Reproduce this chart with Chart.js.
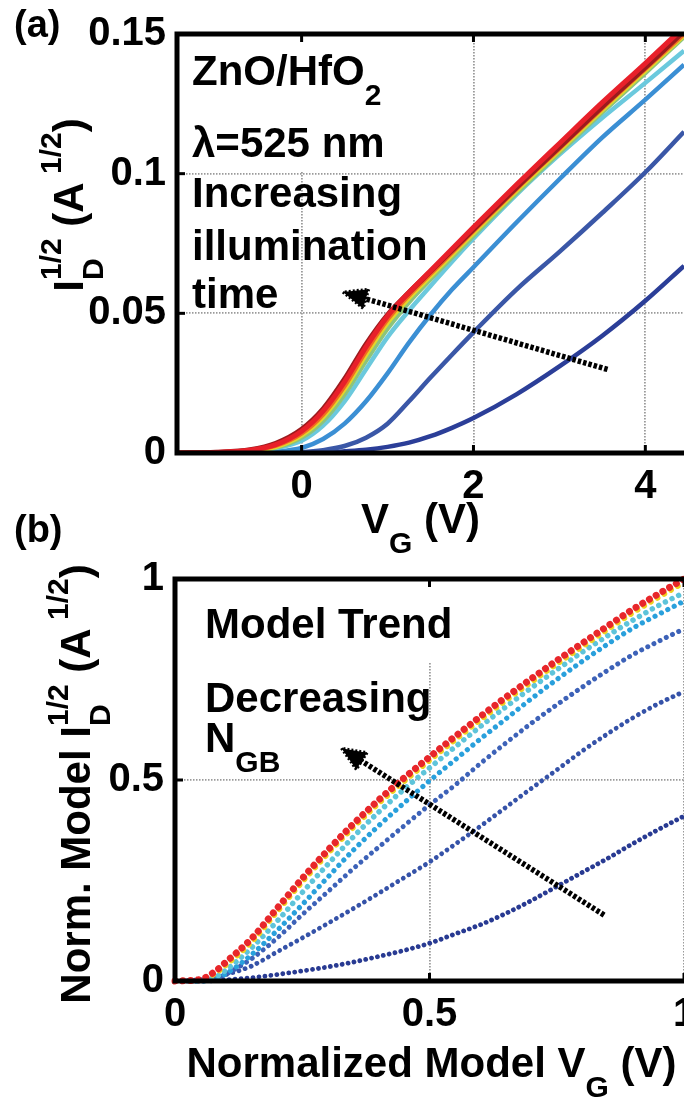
<!DOCTYPE html>
<html>
<head>
<meta charset="utf-8">
<script src="https://cdn.jsdelivr.net/npm/chart.js@4.4.1/dist/chart.umd.min.js"></script>
<style>
  html, body { margin: 0; padding: 0; background: #fff; }
  #wrap { position: relative; width: 684px; height: 1100px; overflow: hidden; }
  #wrapA { position: absolute; left: 0; top: 0; }
  #wrapB { position: absolute; left: 0; top: 500px; }
  canvas { display: block; }
</style>
</head>
<body>
<div id="wrap">
  <div id="wrapA"><canvas id="chartA" width="684" height="560"></canvas></div>
  <div id="wrapB"><canvas id="chartB" width="684" height="600"></canvas></div>
</div>
<script>
// ——— PANEL (a): measured I_D^1/2 vs V_G, one curve per illumination time ———
const vgA = [-1.45, -1.0, -0.6, -0.3, 0, 0.25, 0.5, 0.75, 1.0, 1.25, 1.5, 1.75, 2.0, 2.5, 3.0, 3.5, 4.0, 4.45];
const idDarkRed = [0, 0.0003, 0.0012, 0.0035, 0.0085, 0.0158, 0.0265, 0.0390, 0.0495, 0.0575, 0.0650, 0.0725, 0.0800, 0.0950, 0.1095, 0.1240, 0.1380, 0.1510];
const idRed     = [0, 0.0002, 0.0010, 0.0030, 0.0078, 0.0150, 0.0255, 0.0380, 0.0490, 0.0575, 0.0652, 0.0730, 0.0808, 0.0960, 0.1108, 0.1255, 0.1395, 0.1525];
const idOrange  = [0, 0.0002, 0.0009, 0.0026, 0.0070, 0.0138, 0.0240, 0.0365, 0.0478, 0.0565, 0.0642, 0.0718, 0.0795, 0.0945, 0.1090, 0.1235, 0.1375, 0.1500];
const idYellow  = [0, 0.0001, 0.0008, 0.0022, 0.0063, 0.0128, 0.0228, 0.0352, 0.0466, 0.0555, 0.0633, 0.0710, 0.0787, 0.0938, 0.1083, 0.1228, 0.1368, 0.1495];
const idGreen   = [0, 0.0001, 0.0007, 0.0019, 0.0055, 0.0115, 0.0210, 0.0330, 0.0445, 0.0540, 0.0622, 0.0700, 0.0778, 0.0930, 0.1075, 0.1220, 0.1360, 0.1490];
const idCyan    = [0, 0.0001, 0.0006, 0.0018, 0.0044, 0.0098, 0.0185, 0.0300, 0.0415, 0.0510, 0.0598, 0.0685, 0.0768, 0.0925, 0.1068, 0.1200, 0.1325, 0.1440];
const idMidBlue = [0, 0, 0.0002, 0.0005, 0.0018, 0.0050, 0.0105, 0.0185, 0.0285, 0.0395, 0.0495, 0.0585, 0.0665, 0.0825, 0.0980, 0.1130, 0.1265, 0.1390];
const idBlue    = [0, 0, 0, 0.0001, 0.0003, 0.0010, 0.0025, 0.0055, 0.0105, 0.0185, 0.0270, 0.0352, 0.0432, 0.0585, 0.0720, 0.0860, 0.1005, 0.1150];
const idNavy    = [0, 0, 0, 0, 0, 0.0001, 0.0006, 0.0012, 0.0022, 0.0037, 0.0060, 0.0090, 0.0125, 0.0210, 0.0310, 0.0420, 0.0545, 0.0670];
const ticksVgA = [0, 2, 4];
const ticksIdA = [0, 0.05, 0.1, 0.15];
const tickLabelsIdA = ['0', '0.05', '0.1', '0.15'];
const arrowA = { tail: [3.56, 0.0299], head: [0.48, 0.0576] };

// ——— PANEL (b): normalized model trend, one curve per N_GB ———
const vgB = [0, 0.05, 0.08, 0.1, 0.15, 0.2, 0.25, 0.3, 0.35, 0.4, 0.45, 0.5, 0.55, 0.6, 0.65, 0.7, 0.75, 0.8, 0.85, 0.9, 0.95, 1.0];
const mRed     = [0, 0.004, 0.025, 0.047, 0.105, 0.180, 0.255, 0.325, 0.390, 0.450, 0.505, 0.557, 0.608, 0.658, 0.706, 0.752, 0.797, 0.840, 0.883, 0.925, 0.963, 1.000];
const mYellow  = [0, 0.003, 0.020, 0.040, 0.097, 0.172, 0.247, 0.317, 0.382, 0.442, 0.497, 0.549, 0.600, 0.650, 0.698, 0.744, 0.789, 0.832, 0.875, 0.917, 0.955, 0.992];
const mCyan    = [0, 0.000, 0.010, 0.027, 0.082, 0.148, 0.220, 0.290, 0.358, 0.420, 0.477, 0.530, 0.582, 0.633, 0.682, 0.729, 0.774, 0.818, 0.859, 0.898, 0.934, 0.966];
const mSky     = [0, 0.000, 0.006, 0.018, 0.065, 0.125, 0.190, 0.258, 0.325, 0.386, 0.443, 0.498, 0.550, 0.602, 0.652, 0.702, 0.750, 0.795, 0.838, 0.878, 0.912, 0.945];
const mBlue    = [0, 0.000, 0.005, 0.017, 0.055, 0.106, 0.165, 0.222, 0.279, 0.333, 0.386, 0.438, 0.487, 0.541, 0.592, 0.641, 0.687, 0.731, 0.773, 0.812, 0.845, 0.876];
const mDeep    = [0, 0.003, 0.009, 0.016, 0.037, 0.072, 0.107, 0.143, 0.180, 0.218, 0.257, 0.296, 0.340, 0.385, 0.432, 0.479, 0.525, 0.572, 0.615, 0.655, 0.690, 0.720];
const mNavy    = [0, 0.000, 0.001, 0.003, 0.008, 0.016, 0.025, 0.035, 0.047, 0.061, 0.076, 0.094, 0.117, 0.140, 0.168, 0.200, 0.235, 0.270, 0.305, 0.342, 0.377, 0.410];
const ticksVgB = [0, 0.5, 1];
const ticksIdB = [0, 0.5, 1];
const arrowB = { tail: [0.843, 0.164], head: [0.327, 0.579] };

// ——— STYLE ———
const FONT = "'Liberation Sans', Arial, sans-serif";
const GRID = '#9a9a9a';
const fontPx = size => `bold ${size}px ${FONT}`;

// ——— RICH TEXT (sub / superscripts) ———
function richWidth(ctx, parts, size) {
  const small = Math.round(size * 0.72);
  let w = 0;
  for (const [t, kind, sup] of parts) {
    if (!kind) { ctx.font = fontPx(size); w += ctx.measureText(t).width; continue; }
    ctx.font = fontPx(small);
    let a = ctx.measureText(t).width;
    if (sup) a = Math.max(a, ctx.measureText(sup).width);
    w += a;
  }
  return w;
}

function drawRich(ctx, parts, x, y, size, align) {
  const small = Math.round(size * 0.72);
  let cx = align === 'center' ? x - richWidth(ctx, parts, size) / 2 : x;
  ctx.textAlign = 'left';
  ctx.textBaseline = 'alphabetic';
  ctx.fillStyle = '#000';
  for (const [t, kind, sup] of parts) {
    if (!kind) {
      ctx.font = fontPx(size);
      ctx.fillText(t, cx, y);
      cx += ctx.measureText(t).width;
    } else if (kind === 'sub') {
      ctx.font = fontPx(small);
      ctx.fillText(t, cx, y + size * 0.48);
      let a = ctx.measureText(t).width;
      if (sup) { ctx.fillText(sup, cx, y - size * 0.52); a = Math.max(a, ctx.measureText(sup).width); }
      cx += a;
    } else {
      ctx.font = fontPx(small);
      ctx.fillText(t, cx, y - size * 0.52);
      cx += ctx.measureText(t).width;
    }
  }
}

function drawArrow(ctx, chart, arrow) {
  const xs = chart.scales.x, ys = chart.scales.y;
  const x1 = xs.getPixelForValue(arrow.tail[0]), y1 = ys.getPixelForValue(arrow.tail[1]);
  const x2 = xs.getPixelForValue(arrow.head[0]), y2 = ys.getPixelForValue(arrow.head[1]);
  const ang = Math.atan2(y2 - y1, x2 - x1);
  const len = 24, half = 10;
  const bx = x2 - len * Math.cos(ang), by = y2 - len * Math.sin(ang);
  ctx.save();
  ctx.strokeStyle = '#000';
  ctx.lineWidth = 5.5;
  ctx.lineCap = 'butt';
  ctx.setLineDash([3.5, 2]);
  ctx.beginPath(); ctx.moveTo(x1, y1); ctx.lineTo(bx + 4 * Math.cos(ang), by + 4 * Math.sin(ang)); ctx.stroke();
  // dotted arrowhead: filled triangle broken up by a dashed outline
  ctx.setLineDash([]);
  ctx.fillStyle = '#000';
  ctx.beginPath();
  ctx.moveTo(x2, y2);
  ctx.lineTo(bx + half * Math.sin(ang), by - half * Math.cos(ang));
  ctx.lineTo(bx - half * Math.sin(ang), by + half * Math.cos(ang));
  ctx.closePath(); ctx.fill();
  ctx.lineWidth = 3;
  ctx.setLineDash([2, 2]);
  ctx.stroke();
  ctx.restore();
}

// plugin: white box behind the first label, frame, inward ticks, labels, arrow
function panelDecor(cfg) {
  return {
    id: 'panelDecor',
    beforeDatasetsDraw(chart) {
      const ctx = chart.ctx;
      ctx.save();
      ctx.fillStyle = '#fff';
      ctx.fillRect(cfg.box[0], cfg.box[1], cfg.box[2] - cfg.box[0], cfg.box[3] - cfg.box[1]);
      ctx.restore();
    },
    afterDatasetsDraw(chart) {
      const ctx = chart.ctx, ca = chart.chartArea;
      ctx.save();
      ctx.strokeStyle = '#000';
      ctx.setLineDash([]);
      ctx.lineWidth = 5;
      ctx.lineJoin = 'miter';
      ctx.beginPath();
      ctx.moveTo(ca.right + 5, ca.top);
      ctx.lineTo(ca.left, ca.top);
      ctx.lineTo(ca.left, ca.bottom);
      ctx.lineTo(ca.right + 5, ca.bottom);
      ctx.stroke();
      ctx.lineWidth = 3;
      chart.scales.x.ticks.forEach(t => {
        const px = chart.scales.x.getPixelForValue(t.value);
        ctx.beginPath(); ctx.moveTo(px, ca.bottom); ctx.lineTo(px, ca.bottom - 8); ctx.stroke();
        ctx.beginPath(); ctx.moveTo(px, ca.top); ctx.lineTo(px, ca.top + 8); ctx.stroke();
      });
      chart.scales.y.ticks.forEach(t => {
        const py = chart.scales.y.getPixelForValue(t.value);
        ctx.beginPath(); ctx.moveTo(ca.left, py); ctx.lineTo(ca.left + 8, py); ctx.stroke();
      });
      drawArrow(ctx, chart, cfg.arrow);
      cfg.notes.forEach(n => drawRich(ctx, n.parts, n.x, n.y, n.size, 'left'));
      drawRich(ctx, cfg.xTitle.parts, (ca.left + ca.right) / 2 + cfg.xTitle.dx, cfg.xTitle.y, 42, 'center');
      ctx.save();
      ctx.translate(cfg.yTitle.x, cfg.yTitle.y);
      ctx.rotate(-Math.PI / 2);
      drawRich(ctx, cfg.yTitle.parts, 0, 0, 42, 'center');
      ctx.restore();
      drawRich(ctx, [[cfg.tag]], 14, cfg.tagY, 38, 'left');
      ctx.restore();
    }
  };
}

function scaleOpts(min, max, tickVals, tickText, isX, size, pad) {
  return {
    type: 'linear', min, max,
    afterBuildTicks: s => { s.ticks = tickVals.map(v => ({ value: v })); },
    afterFit: s => {
      if (isX) s.height = size; else s.width = size;
      s.paddingLeft = 0; s.paddingRight = 0; s.paddingTop = 0; s.paddingBottom = 0;
    },
    grid: { color: GRID, lineWidth: 1.8, drawTicks: false },
    border: { display: false, dash: [1.5, 1.5] },
    ticks: {
      color: '#000', padding: pad, maxRotation: 0, minRotation: 0, autoSkip: false,
      font: { family: FONT, size: 40, weight: 'bold' },
      callback: (v, i) => tickText[i]
    }
  };
}

function solid(label, ys, color, width) {
  return {
    label, data: vgA.map((x, i) => ({ x, y: ys[i] })),
    borderColor: color, borderWidth: width, pointRadius: 0,
    cubicInterpolationMode: 'monotone', fill: false
  };
}

function dotted(label, ys, color, size, gap) {
  return {
    label, data: vgB.map((x, i) => ({ x, y: ys[i] })),
    borderColor: color, borderWidth: size, borderDash: [0.01, gap], borderCapStyle: 'round',
    pointRadius: 0, cubicInterpolationMode: 'monotone', fill: false, clip: false
  };
}

const baseOpts = {
  responsive: false, animation: false, devicePixelRatio: 1,
  plugins: { legend: { display: false }, tooltip: { enabled: false } }
};

new Chart(document.getElementById('chartA'), {
  type: 'line',
  data: {
    datasets: [
      solid('t9', idRed, '#e8202a', 5),
      solid('t8', idDarkRed, '#9b1b1e', 5),
      solid('t7', idOrange, '#f26b21', 4.5),
      solid('t6', idYellow, '#e3d52b', 4.5),
      solid('t5', idGreen, '#8cc47c', 4.5),
      solid('t4', idCyan, '#6bc9dd', 4.5),
      solid('t3', idMidBlue, '#3b8fd4', 4.5),
      solid('t2', idBlue, '#3a57a7', 4.5),
      solid('t1', idNavy, '#2b3e98', 4.5)
    ]
  },
  options: {
    ...baseOpts,
    layout: { padding: { left: 0, right: 0, top: 34, bottom: 0 } },
    scales: {
      x: scaleOpts(-1.45, 4.45, ticksVgA, ['0', '2', '4'], true, 107, 10),
      y: scaleOpts(0, 0.15, ticksIdA, tickLabelsIdA, false, 177, 11)
    }
  },
  plugins: [panelDecor({
    box: [179, 37, 412, 171],
    arrow: arrowA,
    tag: '(a)', tagY: 37,
    notes: [
      { parts: [['ZnO/HfO'], ['2', 'sub']], x: 192, y: 85, size: 42 },
      { parts: [['λ=525 nm']], x: 192, y: 157, size: 42 },
      { parts: [['Increasing']], x: 192, y: 207, size: 42 },
      { parts: [['illumination']], x: 192, y: 260, size: 42 },
      { parts: [['time']], x: 192, y: 308, size: 42 }
    ],
    xTitle: { parts: [['V'], ['G', 'sub'], [' (V)']], y: 533, dx: -10 },
    yTitle: { parts: [['I'], ['D', 'sub', '1/2'], [' ('], ['A'], [' 1/2', 'sup'], [')']], x: 83, y: 205 }
  })]
});

new Chart(document.getElementById('chartB'), {
  type: 'line',
  data: {
    datasets: [
      dotted('n7', mRed, '#e8262a', 7, 7.8),
      dotted('n6', mYellow, '#f0d020', 6, 7.8),
      dotted('n5', mCyan, '#5ec4da', 5.5, 7.4),
      dotted('n4', mSky, '#29a0dc', 5.2, 7.2),
      dotted('n3', mBlue, '#3d62b8', 5, 6.9),
      dotted('n2', mDeep, '#3552a8', 4.8, 6.5),
      dotted('n1', mNavy, '#283a92', 4.8, 6.0)
    ]
  },
  options: {
    ...baseOpts,
    layout: { padding: { left: 0, right: 0, top: 79, bottom: 0 } },
    scales: {
      x: scaleOpts(0, 1, ticksVgB, ['0', '0.5', '1'], true, 119, 10),
      y: scaleOpts(0, 1, ticksIdB, ['0', '0.5', '1'], false, 175, 11)
    }
  },
  plugins: [panelDecor({
    box: [179, 82, 445, 162],
    arrow: arrowB,
    tag: '(b)', tagY: 42,
    notes: [
      { parts: [['Model Trend']], x: 205, y: 138, size: 42 },
      { parts: [['Decreasing']], x: 205, y: 212, size: 42 },
      { parts: [['N'], ['GB', 'sub']], x: 205, y: 252, size: 42 }
    ],
    xTitle: { parts: [['Normalized Model V'], ['G', 'sub'], [' (V)']], y: 577, dx: 2 },
    yTitle: { parts: [['Norm. Model I'], ['D', 'sub', '1/2'], [' (A'], [' 1/2', 'sup'], [')']], x: 90, y: 284 }
  })]
});
</script>
</body>
</html>
